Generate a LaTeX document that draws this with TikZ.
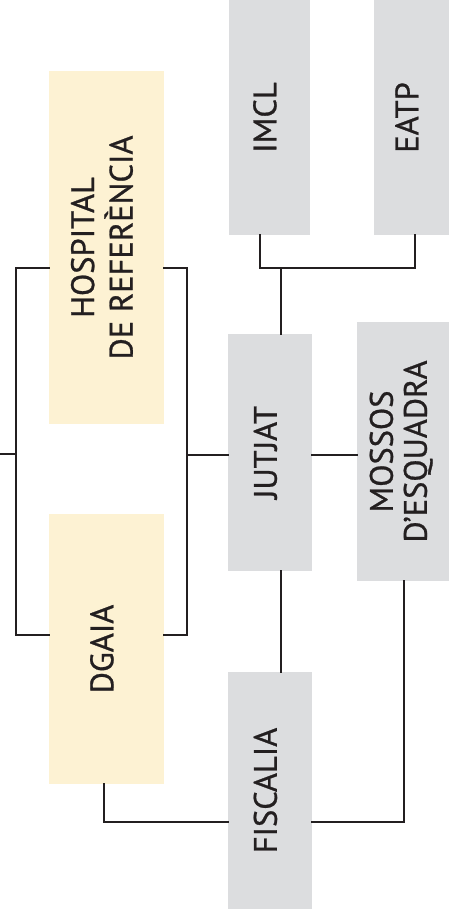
\documentclass[tikz,border=0pt]{standalone}
\usepackage{fontspec}
\setmainfont[FakeBold=0.8]{PT Sans}
\definecolor{ink}{HTML}{231F20}
\definecolor{gfill}{HTML}{DCDDDF}
\definecolor{yfill}{HTML}{FDF2D3}
\newcommand{\vtext}[1]{\rotatebox{90}{\begin{tabular}{@{}c@{}}#1\end{tabular}}}
\tikzset{
  box/.style={inner sep=0pt, outer sep=0pt, text=ink, font=\fontsize{32.5}{34}\selectfont},
  gbox/.style={box, fill=gfill},
  ybox/.style={box, fill=yfill},
  conn/.style={draw=ink, line width=2.6pt, line cap=rect}
}
\begin{document}
\begin{tikzpicture}[x=1pt,y=-1pt]
\useasboundingbox (0,0) rectangle (449,917);
% boxes
\node[ybox, minimum width=115, minimum height=353] (hosp) at (106.5,247.5) {\vtext{HOSPITAL\\DE REFERÈNCIA}};
\node[ybox, minimum width=115, minimum height=270] (dgaia) at (106.5,649) {\vtext{DGAIA\hspace{22pt}}};
\node[gbox, minimum width=81, minimum height=235] (imcl) at (269.5,117.5) {\vtext{IMCL}};
\node[gbox, minimum width=75, minimum height=235] (eatp) at (411.5,117.5) {\vtext{EATP}};
\node[gbox, minimum width=84, minimum height=237] (jutjat) at (270,452.5) {\vtext{JUTJAT}};
\node[gbox, minimum width=92, minimum height=259] (mossos) at (403,451.5) {\vtext{MOSSOS\\D’ESQUADRA}};
\node[gbox, minimum width=84, minimum height=237] (fiscalia) at (270,790.5) {\vtext{FISCALIA}};
% junction points
\coordinate (lt) at (16,268);
\coordinate (lb) at (16,635);
\coordinate (rt) at (187,268);
\coordinate (rb) at (187,635);
\coordinate (stub) at (0,454);
\coordinate (mid) at (0,455);
\coordinate (tj) at (281,268);
\coordinate (ti) at (260,268);
\coordinate (te) at (415,268);
\coordinate (bd) at (104,822);
\coordinate (bm) at (404,822);
% connectors
\draw[conn] (hosp.west |- lt) -- (lt) -- (lb) -- (dgaia.west |- lb);
\draw[conn] (hosp.east |- rt) -- (rt) -- (rb) -- (dgaia.east |- rb);
\draw[conn] (stub) -- (stub -| lt);
\draw[conn] (rt |- mid) -- (jutjat.west |- mid);
\draw[conn] (jutjat.east |- mid) -- (mossos.west |- mid);
\draw[conn] (imcl.south -| ti) -- (ti) -- (te) -- (eatp.south -| te);
\draw[conn] (tj) -- (jutjat.north -| tj);
\draw[conn] (jutjat.south -| tj) -- (fiscalia.north -| tj);
\draw[conn] (dgaia.south -| bd) -- (bd) -- (fiscalia.west |- bd);
\draw[conn] (fiscalia.east |- bm) -- (bm) -- (mossos.south -| bm);
\end{tikzpicture}
\end{document}
